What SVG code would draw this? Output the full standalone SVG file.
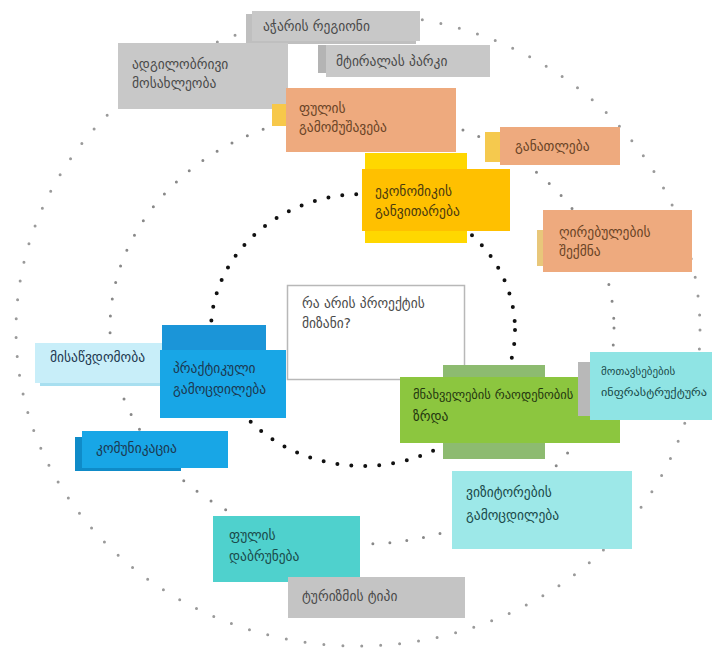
<svg xmlns="http://www.w3.org/2000/svg" width="712" height="648" viewBox="0 0 712 648">
<style>
.t{font-family:"DejaVu Sans","Noto Sans",sans-serif;font-size:13.5px;fill:#4a4a4a}
.tb{font-family:"DejaVu Sans","Noto Sans",sans-serif;font-size:13.5px;fill:#6a4426}
.tk{font-family:"DejaVu Sans","Noto Sans",sans-serif;font-size:13.5px;fill:#1d3850}
.ring{fill:none;stroke-linecap:round}
</style>
<rect width="712" height="648" fill="#ffffff"/>
<g id="connectors">
<ellipse class="ring" cx="358" cy="330" rx="342" ry="316" stroke="#9a9a9a" stroke-width="3" stroke-dasharray="0 19"/>
<ellipse class="ring" cx="362" cy="328" rx="252" ry="216" stroke="#888888" stroke-width="3" stroke-dasharray="0 17"/>
<ellipse class="ring" cx="363" cy="330" rx="152" ry="136" stroke="#111111" stroke-width="4" stroke-dasharray="0 14"/>
</g>
<g id="n-region">
<rect x="246" y="14" width="170" height="30" fill="#bfbfbf"/>
<rect x="252" y="11" width="168" height="30" fill="#c8c8c8"/>
<text class="t" x="263" y="31">აჭარის რეგიონი</text>
</g>
<g id="n-park">
<rect x="318" y="45" width="30" height="28" fill="#b4b4b4"/>
<rect x="326" y="45" width="164" height="32" fill="#c8c8c8"/>
<text class="t" x="336" y="66">მტირალას პარკი</text>
</g>
<g id="n-locals">
<rect x="118" y="43" width="170" height="66" fill="#c8c8c8"/>
<text class="t" x="132" y="69">ადგილობრივი</text>
<text class="t" x="132" y="88">მოსახლეობა</text>
</g>
<g id="n-money">
<rect x="272" y="104" width="16" height="22" fill="#f7c84a"/>
<rect x="286" y="88" width="170" height="64" fill="#eeaa7e"/>
<text class="tb" x="299" y="113">ფულის</text>
<text class="tb" x="299" y="132">გამომუშავება</text>
</g>
<g id="n-education">
<rect x="485" y="132" width="18" height="30" fill="#f5c94e"/>
<rect x="500" y="127" width="120" height="38" fill="#eeaa7e"/>
<text class="tb" x="515" y="151">განათლება</text>
</g>
<g id="n-economy">
<rect x="365" y="153" width="102" height="90" fill="#ffd700"/>
<rect x="362" y="169" width="148" height="62" fill="#ffc000"/>
<text class="tb" x="375" y="196" style="fill:#4a3a10">ეკონომიკის</text>
<text class="tb" x="375" y="216" style="fill:#4a3a10">განვითარება</text>
</g>
<g id="n-value">
<rect x="537" y="230" width="10" height="36" fill="#e8c77a"/>
<rect x="543" y="210" width="149" height="62" fill="#eeaa7e"/>
<text class="tb" x="559" y="237">ღირებულების</text>
<text class="tb" x="559" y="256">შექმნა</text>
</g>
<g id="n-goal">
<rect x="287.5" y="285.5" width="177" height="94" fill="#ffffff" stroke="#b8b8b8" stroke-width="1.5"/>
<text class="t" x="302" y="308">რა არის პროექტის</text>
<text class="t" x="302" y="328">მიზანი?</text>
</g>
<g id="n-access">
<rect x="40" y="350" width="152" height="36" fill="#a8dff0"/>
<rect x="35" y="343" width="146" height="40" fill="#c8eef9"/>
<text class="tk" x="50" y="362">მისაწვდომობა</text>
</g>
<g id="n-practice">
<rect x="162" y="325" width="104" height="70" fill="#1b95d8"/>
<rect x="160" y="350" width="126" height="68" fill="#18a6e6"/>
<text class="tk" x="173" y="373">პრაქტიკული</text>
<text class="tk" x="173" y="394">გამოცდილება</text>
</g>
<g id="n-comm">
<rect x="75" y="437" width="106" height="34" fill="#0f8bc8"/>
<rect x="82" y="431" width="146" height="37" fill="#18a6e6"/>
<text class="tk" x="96" y="453">კომუნიკაცია</text>
</g>
<g id="n-growth">
<rect x="443" y="365" width="102" height="94" fill="#8dbb70"/>
<rect x="400" y="377" width="220" height="66" fill="#8cc63f"/>
<text class="t" x="413" y="399" style="fill:#24360f;font-size:12.5px">მნახველების რაოდენობის</text>
<text class="t" x="413" y="421" style="fill:#24360f">ზრდა</text>
</g>
<g id="n-infra">
<rect x="578" y="362" width="20" height="54" fill="#b8b8b8"/>
<rect x="590" y="352" width="122" height="68" fill="#8fe4e4"/>
<text class="t" x="601" y="375" style="fill:#1a4a4a;font-size:11px">მოთავსებების</text>
<text class="t" x="601" y="396" style="fill:#1a4a4a;font-size:11px" textLength="106" lengthAdjust="spacingAndGlyphs">ინფრასტრუქტურა</text>
</g>
<g id="n-visitors">
<rect x="452" y="471" width="180" height="78" fill="#9de8e8"/>
<text class="t" x="466" y="497" style="fill:#1a4a4a">ვიზიტორების</text>
<text class="t" x="466" y="520" style="fill:#1a4a4a">გამოცდილება</text>
</g>
<g id="n-return">
<rect x="213" y="516" width="147" height="66" fill="#4fd1cd"/>
<text class="t" x="229" y="540" style="fill:#1a4a4a">ფულის</text>
<text class="t" x="229" y="561" style="fill:#1a4a4a">დაბრუნება</text>
</g>
<g id="n-type">
<rect x="288" y="577" width="177" height="41" fill="#c4c4c4"/>
<text class="t" x="302" y="601">ტურიზმის ტიპი</text>
</g>
</svg>
